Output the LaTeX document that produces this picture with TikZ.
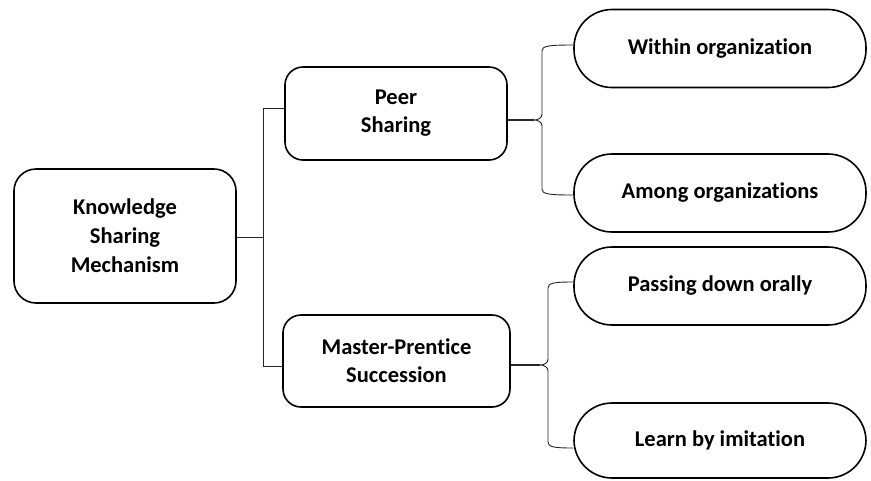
\documentclass[tikz,border=0pt]{standalone}
\usepackage{fontspec}
\setmainfont[Ligatures=NoCommon]{Carlito}
\begin{document}
\begin{tikzpicture}[x=1pt,y=-1pt,
  txt/.style={font=\fontsize{22.5}{28}\selectfont\bfseries},
  box/.style={draw, line width=1.6pt, rounded corners=18pt, align=center, inner sep=0pt, txt},
  pill/.style={draw, line width=1.6pt, rounded corners=38pt, minimum width=292pt, minimum height=78pt, inner sep=0pt, txt},
  link/.style={line width=0.9pt, draw=black!85}]
\useasboundingbox (0,0) rectangle (871,480);
% nodes
\node[box, minimum width=222pt, minimum height=134pt, rounded corners=22pt, font=\fontsize{22.5}{29}\selectfont\bfseries] (ksm) at (125,236) {Knowledge\\Sharing\\Mechanism};
\node[box, minimum width=222pt, minimum height=93pt] (peer) at (396,113.5) {Peer\\Sharing};
\node[box, minimum width=227pt, minimum height=92pt] (mp) at (396.5,361) {Master-Prentice\\Succession};
\node[pill] (within) at (720,48.5) {Within organization};
\node[pill] (among) at (720,193) {Among organizations};
\node[pill] (pass) at (720,286) {Passing down orally};
\node[pill, minimum height=75pt] (learn) at (720,440.5) {Learn by imitation};
% left bracket
\coordinate (j) at (263,237);
\coordinate (pa) at (263,108);
\coordinate (pb) at (263,366);
\draw[link] (ksm.east |- j) -- (j);
\draw[link] (pa -| peer.west) -- (pa) -- (pb) -- (pb -| mp.west);
% brace for Peer Sharing
\coordinate (c1) at (534,120);
\coordinate (t1) at (0,45);
\coordinate (b1) at (0,195);
\draw[link, line width=1.2pt] (peer.east |- c1) -- (c1);
\draw[link] (within.west |- t1) .. controls (548,45) and (542,46) .. (542,51)
  -- (542,114) .. controls (542,118) and (538,120) .. (c1)
  .. controls (538,120) and (542,122) .. (542,126)
  -- (542,189) .. controls (542,194) and (548,195) .. (among.west |- b1);
% brace for Master-Prentice
\coordinate (c2) at (540,365);
\coordinate (t2) at (0,282);
\coordinate (b2) at (0,448);
\draw[link, line width=1.2pt] (mp.east |- c2) -- (c2);
\draw[link] (pass.west |- t2) .. controls (554,282) and (548,283) .. (548,288)
  -- (548,359) .. controls (548,363) and (544,365) .. (c2)
  .. controls (544,365) and (548,367) .. (548,371)
  -- (548,442) .. controls (548,447) and (554,448) .. (learn.west |- b2);
\end{tikzpicture}
\end{document}
